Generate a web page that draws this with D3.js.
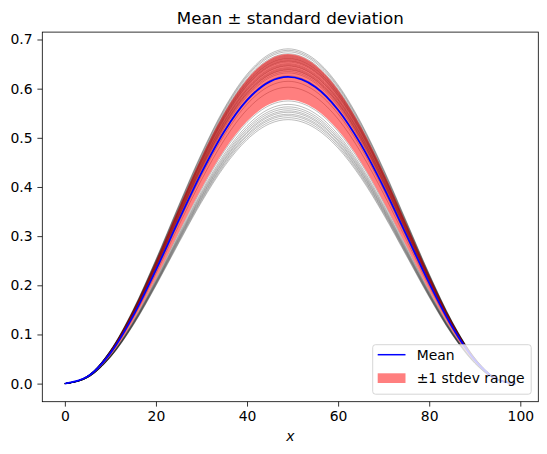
<!DOCTYPE html>
<html>
<head>
<meta charset="utf-8">
<script src="https://cdn.jsdelivr.net/npm/d3@7"></script>
<style>
  html, body { margin: 0; padding: 0; background: #fff; }
  svg { display: block; font-family: "DejaVu Sans", sans-serif; }
</style>
</head>
<body>
<svg id="chart" width="547" height="454"></svg>
<script>
// ---- data ----
const xValues = [0, 5, 10, 15, 20, 25, 30, 35, 40, 45, 49, 55, 60, 65, 70, 75, 80, 85, 90, 95, 99];
// common profile of the curves (normalised to peak = 1)
const profile = [0, 0.0229, 0.0994, 0.2208, 0.3709, 0.5322, 0.6874, 0.8222, 0.9241, 0.9847, 1.0,
                 0.9672, 0.8922, 0.7800, 0.6400, 0.4843, 0.3276, 0.1863, 0.0768, 0.0135, 0];
// peak heights of the individual thin curves
const curvePeaks = [
  0.681, 0.678, 0.675, 0.671,
  0.668, 0.666, 0.664, 0.662, 0.661, 0.659, 0.657, 0.656, 0.654, 0.651, 0.649,
  0.647, 0.646, 0.643, 0.641, 0.639, 0.638, 0.635, 0.632,
  0.626, 0.615, 0.603,
  0.575, 0.568, 0.563, 0.559, 0.555, 0.552, 0.548, 0.545, 0.541, 0.537
];
const xTicks = [0, 20, 40, 60, 80, 100];
const yTicks = [0.0, 0.1, 0.2, 0.3, 0.4, 0.5, 0.6, 0.7];
const titleText = "Mean \u00b1 standard deviation";
const legendLabels = ["Mean", "\u00b11 stdev range"];

// ---- derived table ----
const curves = curvePeaks.map(p => xValues.map((x, i) => ({x, y: p * profile[i]})));
const stats = xValues.map((x, i) => {
  const vals = curves.map(c => c[i].y);
  const m = d3.mean(vals);
  const sd = Math.sqrt(d3.mean(vals.map(v => (v - m) * (v - m))));
  return {x, mean: m, lo: m - sd, hi: m + sd};
});

// ---- layout ----
const svg = d3.select("#chart");
const L = 42.3, T = 32.1, W = 496, H = 369.6;
const xMin = d3.min(xValues), xMax = d3.max(xValues);
const xPad = (xMax - xMin) * 0.05;
const allY = curves.flat().map(d => d.y).concat(stats.map(s => s.lo), stats.map(s => s.hi));
const yMin = d3.min(allY), yMax = d3.max(allY);
const yPad = (yMax - yMin) * 0.05;
const x = d3.scaleLinear().domain([xMin - xPad, xMax + xPad]).range([L, L + W]);
const y = d3.scaleLinear().domain([yMin - yPad * 1.08, yMax + yPad]).range([T + H, T]);

const g = svg.append("g");
const line = d3.line().x(d => x(d.x)).y(d => y(d.y)).curve(d3.curveMonotoneX);

// thin curves
g.append("g").selectAll("path").data(curves).join("path")
  .attr("d", line)
  .attr("fill", "none")
  .attr("stroke", "#000")
  .attr("stroke-opacity", 0.35)
  .attr("stroke-width", 0.75);

// stdev band
const area = d3.area().x(d => x(d.x)).y0(d => y(d.lo)).y1(d => y(d.hi)).curve(d3.curveMonotoneX);
g.append("path").datum(stats)
  .attr("d", area)
  .attr("fill", "#ff0000")
  .attr("fill-opacity", 0.5);

// mean line
g.append("path").datum(stats.map(s => ({x: s.x, y: s.mean})))
  .attr("d", line)
  .attr("fill", "none")
  .attr("stroke", "#0000ff")
  .attr("stroke-width", 1.8);

// ---- axes ----
const fs = 13.9;
const xAxis = d3.axisBottom(x).tickValues(xTicks).tickSize(4.9).tickPadding(4.9).tickFormat(d3.format("d"));
const yAxis = d3.axisLeft(y).tickValues(yTicks).tickSize(4.9).tickPadding(4.9).tickFormat(d3.format(".1f"));
const gx = svg.append("g").attr("transform", `translate(0,${T + H})`).call(xAxis);
const gy = svg.append("g").attr("transform", `translate(${L},0)`).call(yAxis);
[gx, gy].forEach(a => {
  a.select(".domain").remove();
  a.selectAll(".tick line").attr("stroke", "#000").attr("stroke-width", 0.8);
  a.selectAll(".tick text").attr("fill", "#000").style("font-size", fs + "px").style("font-family", "DejaVu Sans");
});

// frame
svg.append("rect").attr("x", L).attr("y", T).attr("width", W).attr("height", H)
  .attr("fill", "none").attr("stroke", "#000").attr("stroke-width", 0.8);

// title and label
svg.append("text").attr("x", L + W / 2).attr("y", 23.5).attr("text-anchor", "middle")
  .style("font-size", "16.7px").attr("fill", "#000").text(titleText);
svg.append("text").attr("x", L + W / 2).attr("y", 441).attr("text-anchor", "middle")
  .style("font-size", fs + "px").style("font-style", "italic").attr("fill", "#000").text("x");

// ---- legend ----
const lg = svg.append("g");
const lx = 372.7, ly = 344.7, lw = 158.5, lh = 49.5;
lg.append("rect").attr("x", lx).attr("y", ly).attr("width", lw).attr("height", lh)
  .attr("rx", 2.8).attr("ry", 2.8)
  .attr("fill", "#fff").attr("fill-opacity", 0.8)
  .attr("stroke", "#cccccc").attr("stroke-opacity", 0.8).attr("stroke-width", 1);
lg.append("line").attr("x1", lx + 5).attr("x2", lx + 32.8).attr("y1", 354.7).attr("y2", 354.7)
  .attr("stroke", "#0000ff").attr("stroke-width", 1.5);
lg.append("rect").attr("x", lx + 5).attr("y", 373.3).attr("width", 27.8).attr("height", 9.7)
  .attr("fill", "#ff0000").attr("fill-opacity", 0.5);
lg.append("text").attr("x", lx + 44).attr("y", 354.7).attr("dy", "0.36em")
  .style("font-size", fs + "px").attr("fill", "#000").text(legendLabels[0]);
lg.append("text").attr("x", lx + 44).attr("y", 378.2).attr("dy", "0.36em")
  .style("font-size", fs + "px").attr("fill", "#000").text(legendLabels[1]);
</script>
</body>
</html>
